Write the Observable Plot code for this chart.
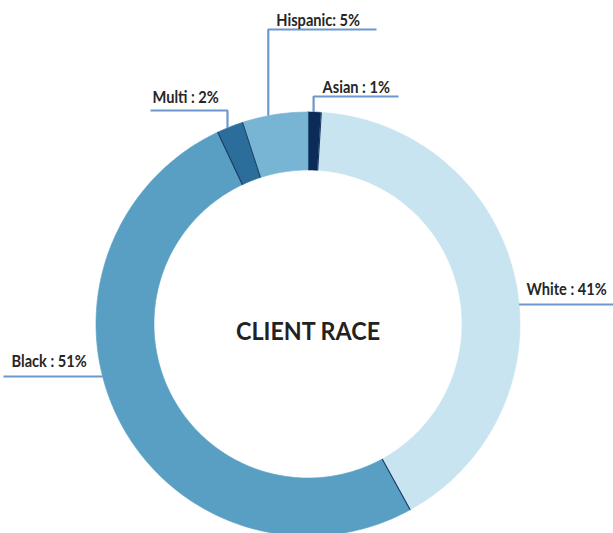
<!DOCTYPE html>
<html>
<head>
<meta charset="utf-8">
<script src="https://cdn.jsdelivr.net/npm/d3@7"></script>
<script src="https://cdn.jsdelivr.net/npm/@observablehq/plot@0.6"></script>
<style>
  html, body { margin: 0; padding: 0; background: #fff; }
  #chart svg { display: block; }
</style>
</head>
<body>
<div id="chart"></div>
<script>
// ---- data ----
const categories = ["Asian", "White", "Black", "Multi", "Hispanic"];
const shares = [1, 41, 51, 2, 5];
const labels = ["Asian : 1%", "White : 41%", "Black : 51%", "Multi : 2%", "Hispanic: 5%"];
const colors = ["#0b2b58", "#c8e4f0", "#599fc4", "#2b6d9b", "#78b4d3"];
const title = "CLIENT RACE";

// ---- layout (pixels) ----
const W = 613, H = 533;
const cx = 307.5, cy = 323.5, R = 212;
const innerRatio = 154 / 212;
const ux = px => (px - cx) / R;
const uy = py => (cy - py) / R;

// label leader layout: "top" labels rise vertically from the ring, "side" labels run horizontally
const leaderLayout = {
  Asian:    {kind: "top", frac: 0.42, elbowY: 96,  endX: 398, textDx: 9,  textY: 92},
  Hispanic: {kind: "top", frac: 0.40, elbowY: 29,  endX: 376, textDx: 8,  textY: 25},
  Multi:    {kind: "top", frac: 0.40, elbowY: 110, endX: 150, textDx: 2,  textY: 102, textFromEnd: true},
  White:    {kind: "side", lineY: 304, edgeX: 613, textX: 526, textY: 294},
  Black:    {kind: "side", lineY: 376, edgeX: 3,   textX: 11,  textY: 366}
};
const labelCondense = 0.86;
const titleCondense = 0.97;

const table = categories.map((c, i) => ({cat: c, share: shares[i], label: labels[i]}));
const arcs = d3.pie().sort(null).value(d => d.share)(table);

// ring polygons
const ringPts = [];
const STEPS = 120;
for (const a of arcs) {
  const n = Math.max(4, Math.ceil((a.endAngle - a.startAngle) / (2 * Math.PI) * STEPS * 3));
  const pts = [];
  for (let k = 0; k <= n; k++) {
    const t = a.startAngle + (a.endAngle - a.startAngle) * k / n;
    pts.push({cat: a.data.cat, x: Math.sin(t), y: Math.cos(t)});
  }
  for (let k = n; k >= 0; k--) {
    const t = a.startAngle + (a.endAngle - a.startAngle) * k / n;
    pts.push({cat: a.data.cat, x: innerRatio * Math.sin(t), y: innerRatio * Math.cos(t)});
  }
  pts.push({...pts[0]});
  ringPts.push(...pts);
}

// slice boundaries (dark hairlines)
const edges = arcs.slice(1).map(a => ({
  x1: innerRatio * Math.sin(a.startAngle), y1: innerRatio * Math.cos(a.startAngle),
  x2: Math.sin(a.startAngle), y2: Math.cos(a.startAngle)
}));

// leader lines + label positions
const leaderPts = [];
const textPts = [];
for (const a of arcs) {
  const L = leaderLayout[a.data.cat];
  if (L.kind === "top") {
    const t = a.startAngle + (a.endAngle - a.startAngle) * L.frac;
    const ax = Math.sin(t), ay = Math.cos(t);
    leaderPts.push({cat: a.data.cat, x: ax, y: ay});
    leaderPts.push({cat: a.data.cat, x: ax, y: uy(L.elbowY)});
    leaderPts.push({cat: a.data.cat, x: ux(L.endX), y: uy(L.elbowY)});
    textPts.push({label: a.data.label, x: L.textFromEnd ? ux(L.endX + L.textDx) : ax + L.textDx / R, y: uy(L.textY)});
  } else {
    const yy = uy(L.lineY);
    const rx = Math.sqrt(1 - yy * yy) * (L.edgeX > cx ? 1 : -1);
    leaderPts.push({cat: a.data.cat, x: rx, y: yy});
    leaderPts.push({cat: a.data.cat, x: ux(L.edgeX), y: yy});
    textPts.push({label: a.data.label, x: ux(L.textX), y: uy(L.textY)});
  }
}

const chart = Plot.plot({
  width: W,
  height: H,
  margin: 0,
  style: {background: "#fff"},
  x: {domain: [ux(0), ux(W)], range: [0, W], axis: null},
  y: {domain: [uy(0), uy(H)], range: [0, H], axis: null},
  color: {domain: categories, range: colors},
  marks: [
    Plot.line(ringPts, {x: "x", y: "y", z: "cat", fill: "cat", stroke: "cat", strokeWidth: 0.6, curve: "linear"}),
    Plot.link(edges, {x1: "x1", y1: "y1", x2: "x2", y2: "y2", stroke: "#1c3a60", strokeWidth: 1.1}),
    Plot.line(leaderPts, {x: "x", y: "y", z: "cat", stroke: "#6c98cb", strokeWidth: 2.2, strokeLinejoin: "miter", strokeLinecap: "butt"}),
    Plot.text(textPts, {x: "x", y: "y", text: "label", textAnchor: "start", lineAnchor: "bottom",
      fontFamily: "Lato", fontWeight: "bold", fontSize: 17, fill: "#262626", className: "seglabel"}),
    Plot.text([title], {x: [0], y: [uy(332)], text: d => d, textAnchor: "middle", lineAnchor: "middle",
      fontFamily: "Lato", fontWeight: "bold", fontSize: 24, fill: "#222", className: "ctitle"})
  ]
});
document.getElementById("chart").appendChild(chart);

// condense label glyphs (narrow, Calibri-like look)
function condense(sel, k) {
  d3.select(chart).selectAll(sel).each(function () {
    const w = this.getComputedTextLength();
    this.setAttribute("textLength", (w * k).toFixed(2));
    this.setAttribute("lengthAdjust", "spacingAndGlyphs");
  });
}
condense(".seglabel text", labelCondense);
condense(".ctitle text", titleCondense);
</script>
</body>
</html>
